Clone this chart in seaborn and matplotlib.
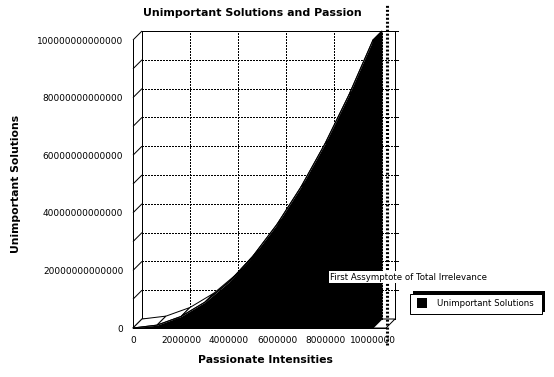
import matplotlib
matplotlib.use("Agg")
import matplotlib.pyplot as plt
from matplotlib.patches import Polygon, Rectangle
import seaborn as sns

# ---------------- data ----------------
intensities = [0, 1000000, 2000000, 3000000, 4000000, 5000000,
               6000000, 7000000, 8000000, 9000000, 10000000]
solutions = [0, 1000000000000, 4000000000000, 9000000000000,
             16000000000000, 25000000000000, 36000000000000,
             49000000000000, 64000000000000, 81000000000000,
             100000000000000]
series_name = "Unimportant Solutions"
chart_title = "Unimportant Solutions and Passion"
x_label = "Passionate Intensities"
y_label = "Unimportant Solutions"
x_ticks = [0, 2000000, 4000000, 6000000, 8000000, 10000000]
x_tick_labels = ["0", "2000000", "4000000", "6000000", "8000000", "10000000"]
x_minor_ticks = [1000000, 3000000, 5000000, 7000000, 9000000]
y_ticks = [0, 20000000000000, 40000000000000, 60000000000000,
           80000000000000, 100000000000000]
y_tick_labels = ["0", "20000000000000", "40000000000000", "60000000000000",
                 "80000000000000", "100000000000000"]
y_minor_ticks = [10000000000000, 30000000000000, 50000000000000,
                 70000000000000, 90000000000000]
y_grid = [10000000000000, 20000000000000, 30000000000000, 40000000000000,
          50000000000000, 60000000000000, 70000000000000, 80000000000000,
          90000000000000]
x_grid = [2000000, 4000000, 6000000, 8000000, 10000000]
asymptote_x = 10580000
asymptote_label = "First Assymptote of Total Irrelevance"

# ---------------- layout helpers ----------------
W, H, DPI = 554, 377, 100
def fx(px):
    return px / W
def fy(py):
    return 1 - py / H

sns.set_style("white")
plt.rcParams['font.family'] = ['DejaVu Sans']
plt.rcParams['text.color'] = 'black'

fig = plt.figure(figsize=(W / DPI, H / DPI), dpi=DPI)
fig.patch.set_facecolor("white")

AX_L, AX_R, AX_T, AX_B = 133, 386, 40, 328
ax = fig.add_axes([fx(AX_L), fy(AX_B), (AX_R - AX_L) / W, (AX_B - AX_T) / H])
ax.patch.set_visible(False)

x_top = max(intensities)
ymax = max(y_ticks)
xmax = x_top * (AX_R - AX_L) / 240.0  # 240 px span for the data range

LW = 0.72
DEPTH = 9
DX = DEPTH * xmax / (AX_R - AX_L)
DY = DEPTH * ymax / (AX_B - AX_T)
DOT = (0, (1.4, 1.4))

def line(xs, ys, aa=False, **kw):
    base = dict(color="black", lw=LW, clip_on=False, solid_capstyle="butt",
                dash_capstyle="butt", antialiased=aa)
    base.update(kw)
    ax.plot(xs, ys, **base)

# floor
ax.add_patch(Polygon([(0, 0), (xmax, 0), (xmax + DX, DY), (DX, DY)],
                     closed=True, facecolor="white", edgecolor="black",
                     lw=LW, zorder=1, clip_on=False))
# back wall dotted grid
for g in y_grid:
    line([DX, xmax + DX], [g + DY, g + DY], ls=DOT, zorder=1.5)
for g in x_grid:
    line([g + DX, g + DX], [DY, ymax + DY], ls=DOT, zorder=1.5)
# back wall frame
line([DX, DX], [DY, ymax + DY], zorder=1.6)
line([DX, xmax + DX + DX * 0.35], [ymax + DY, ymax + DY], zorder=1.6)
line([xmax + DX, xmax + DX], [DY, ymax + DY], zorder=1.6)
# right-axis ticks
for g in y_grid + [ymax]:
    line([xmax + DX, xmax + DX * 1.35], [g + DY, g + DY], zorder=1.6)
# diagonal connectors from front axis to back wall
for g in y_grid + [ymax]:
    line([0, DX], [g, g + DY], aa=True, zorder=1.6)

# ribbon (top surface of the 3D area)
for i in range(len(intensities) - 1):
    x0, x1 = intensities[i], intensities[i + 1]
    y0, y1 = solutions[i], solutions[i + 1]
    ax.add_patch(Polygon([(x0, y0), (x1, y1), (x1 + DX, y1 + DY), (x0 + DX, y0 + DY)],
                         closed=True, facecolor="white", edgecolor="black",
                         lw=LW, zorder=3, clip_on=False))
# front face
ax.fill_between(intensities, 0, solutions, color="black", lw=0,
                zorder=4, clip_on=False)
sns.lineplot(x=intensities, y=solutions, color="black", lw=LW, ax=ax,
             zorder=4.1, clip_on=False)
# end cap
xe, ye = intensities[-1], solutions[-1]
ax.add_patch(Polygon([(xe, 0), (xe, ye), (xe + DX, ye + DY), (xe + DX, DY)],
                     closed=True, facecolor="black", edgecolor="black",
                     lw=LW, zorder=4, clip_on=False))

# asymptote
ax.plot([asymptote_x, asymptote_x], [-17 / 288, 323 / 288],
        transform=ax.get_xaxis_transform(), color="black", lw=2.2,
        ls=(0, (0.65, 0.65)), dash_capstyle="butt", clip_on=False, zorder=6)

ax.set_xlim(0, xmax)
ax.set_ylim(0, ymax)
for s in ["top", "right"]:
    ax.spines[s].set_visible(False)
for s in ["left", "bottom"]:
    ax.spines[s].set_color("black")
    ax.spines[s].set_linewidth(LW)
    ax.spines[s].set_zorder(5)

ax.set_xticks(x_ticks, x_tick_labels)
ax.set_xticks(x_minor_ticks, minor=True)
ax.set_yticks(y_ticks, y_tick_labels)
ax.set_yticks(y_minor_ticks, minor=True)
ax.tick_params(which="both", direction="out", length=3, width=LW,
               color="black", labelsize=6.5, labelcolor="black")
ax.tick_params(axis="y", pad=4)
ax.tick_params(axis="x", pad=2.5)
ax.set_xlabel("")
ax.set_ylabel("")

# texts
fig.text(fx(252.5), fy(13), chart_title, ha="center", va="center",
         fontsize=7.9, fontweight="bold", color="black")
fig.text(fx(265.5), fy(360), x_label, ha="center", va="center",
         fontsize=7.8, fontweight="bold", color="black")
fig.text(fx(16), fy(184), y_label, ha="center", va="center",
         fontsize=7.8, fontweight="bold", rotation=90, color="black")
fig.text(fx(330), fy(277), asymptote_label, ha="left", va="center",
         fontsize=6.2, color="black",
         bbox=dict(facecolor="white", edgecolor="none", pad=1.0))

# legend (with offset shadow)
fig.add_artist(Rectangle((fx(413), fy(312)), (545 - 413) / W, (312 - 291) / H,
                         transform=fig.transFigure, facecolor="black",
                         edgecolor="none"))
fig.add_artist(Rectangle((fx(410), fy(314)), (542 - 410) / W, (314 - 294) / H,
                         transform=fig.transFigure, facecolor="white",
                         edgecolor="black", lw=LW))
fig.add_artist(Rectangle((fx(417), fy(308)), 10 / W, 10 / H,
                         transform=fig.transFigure, facecolor="black",
                         edgecolor="none"))
fig.text(fx(437), fy(303.5), series_name, ha="left", va="center",
         fontsize=6.2, color="black")

fig.savefig("out.png", dpi=DPI, facecolor="white")
